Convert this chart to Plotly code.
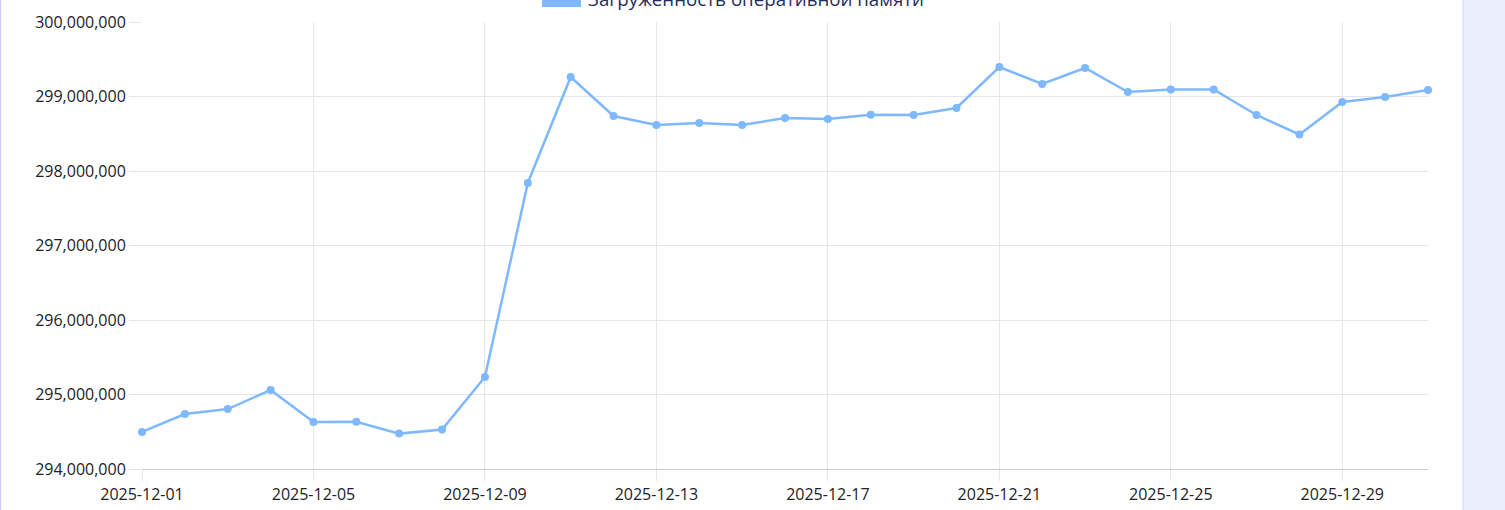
import plotly.graph_objects as go

dates = ["2025-12-%02d" % d for d in range(1, 32)]
memory_usage = [
    294497000, 294738000, 294805000, 295060000, 294630000, 294635000,
    294475000, 294530000, 295235000, 297839000, 299262000, 298738000,
    298617000, 298644000, 298617000, 298711000, 298698000, 298755000,
    298752000, 298846000, 299396000, 299168000, 299383000, 299060000,
    299095000, 299095000, 298752000, 298490000, 298926000, 298993000,
    299087000,
]
series_name = "Загруженность оперативной памяти"

W, H = 1505, 510
L, R, T, B = 142, 77, 22, 41
pw, ph = W - L - R, H - T - B

def px_x(p):
    return (p - L) / pw

def px_y(p):
    return 1 + (T - p) / ph

line_color = "rgb(126,184,255)"
tick_color = "#222222"

fig = go.Figure()
fig.add_trace(go.Scatter(
    x=dates, y=memory_usage, mode="lines+markers", name=series_name,
    line=dict(color=line_color, width=2.5),
    marker=dict(color=line_color, size=8),
    cliponaxis=False,
    showlegend=False,
))

grid = "#e6e6e6"
fig.update_layout(
    width=W, height=H,
    margin=dict(l=L, r=R, t=T, b=B, autoexpand=False),
    paper_bgcolor="white", plot_bgcolor="white",
    font=dict(family="Open Sans", size=16, color=tick_color),
    xaxis=dict(
        type="date", range=["2025-12-01", "2025-12-31"],
        tick0="2025-12-01", dtick=4 * 86400000, tickformat="%Y-%m-%d",
        showgrid=True, gridcolor=grid, gridwidth=1,
        ticks="outside", ticklen=11, tickcolor=grid,
        showline=True, linecolor="#cccccc", linewidth=1,
        zeroline=False, tickfont=dict(size=16, color=tick_color),
    ),
    yaxis=dict(
        range=[294e6, 300e6], dtick=1e6, tickformat=",d",
        showgrid=True, gridcolor=grid, gridwidth=1,
        ticks="outside", ticklen=12, tickcolor=grid,
        showline=False, zeroline=False,
        tickfont=dict(size=16, color=tick_color),
    ),
)

# right side panel and left border
fig.add_shape(type="rect", xref="paper", yref="paper",
              x0=px_x(1463), x1=px_x(1506), y0=px_y(511), y1=px_y(-1),
              fillcolor="#ebf0fc", line=dict(color="#d6d6f4", width=1), layer="below")
fig.add_shape(type="line", xref="paper", yref="paper",
              x0=px_x(0.5), x1=px_x(0.5), y0=px_y(511), y1=px_y(-1),
              line=dict(color="#d0d0f8", width=1.5))

# legend (partially cut at top, as in the reference)
fig.add_shape(type="rect", xref="paper", yref="paper",
              x0=px_x(542), x1=px_x(581), y0=px_y(7), y1=px_y(-10),
              fillcolor=line_color, line=dict(width=0))
fig.add_annotation(xref="paper", yref="paper", x=px_x(586), y=px_y(-2),
                   xanchor="left", yanchor="middle", showarrow=False,
                   text=series_name,
                   font=dict(family="Open Sans", size=18.7, color="#1f2d5c"))

fig.write_html("out.html", config={"displayModeBar": False},
               post_script="document.body.style.margin='0';")
